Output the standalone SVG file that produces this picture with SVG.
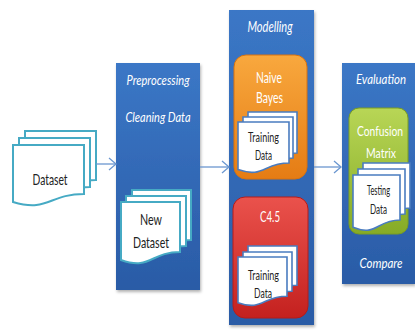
<svg xmlns="http://www.w3.org/2000/svg" width="415" height="330" viewBox="0 0 415 330">
<defs>
<linearGradient id="gBlue" x1="0" y1="0" x2="0" y2="1"><stop offset="0" stop-color="#3b77c6"/><stop offset="1" stop-color="#2a5ba6"/></linearGradient>
<linearGradient id="gOrange" x1="0" y1="0" x2="0" y2="1"><stop offset="0" stop-color="#f8a83e"/><stop offset="1" stop-color="#e57c14"/></linearGradient>
<linearGradient id="gRed" x1="0" y1="0" x2="0" y2="1"><stop offset="0" stop-color="#ea524c"/><stop offset="1" stop-color="#c4211f"/></linearGradient>
<linearGradient id="gGreen" x1="0" y1="0" x2="0" y2="1"><stop offset="0" stop-color="#b8d656"/><stop offset="1" stop-color="#86ab26"/></linearGradient>
<filter id="sh" x="-10%" y="-10%" width="130%" height="130%"><feDropShadow dx="1" dy="2" stdDeviation="1.5" flood-color="#000" flood-opacity="0.3"/></filter>
<marker id="arr" markerUnits="userSpaceOnUse" markerWidth="12" markerHeight="14" refX="9" refY="7" orient="auto"><path d="M2,1 L9,7 L2,13" fill="none" stroke="#6b97d0" stroke-width="1.3"/></marker>
</defs>
<style>
.panel{fill:url(#gBlue);filter:url(#sh)}
.doc{fill:#fff;stroke:#46aac4;stroke-width:2}
.docb{fill:#fff;stroke:#4a7cc0;stroke-width:1.6}
.t{font-family:Lato,"Liberation Sans",sans-serif;text-anchor:middle}
.w{fill:#fff}
.k{fill:#222}
.it{font-style:italic}
.conn{stroke:#6b97d0;stroke-width:1.3;fill:none}
</style>
<rect width="415" height="330" fill="#fff"/>

<g id="dataset">
<path class="doc" d="M25,131 H96 V180 C60.5,180 60.5,198.5 25,188 Z"/>
<path class="doc" d="M19,138 H90 V187 C54.5,187 54.5,205.5 19,195 Z"/>
<path class="doc" d="M13,145 H84 V194 C48.5,194 48.5,212.5 13,202 Z"/>
<text class="t k" x="50" y="185" font-size="15" textLength="35" lengthAdjust="spacingAndGlyphs">Dataset</text>
</g>

<g id="preprocessing">
<rect class="panel" x="116" y="63" width="84" height="227"/>
<text class="t w it" x="158" y="85" font-size="14" textLength="63" lengthAdjust="spacingAndGlyphs">Preprocessing</text>
<text class="t w it" x="158" y="122" font-size="14" textLength="65" lengthAdjust="spacingAndGlyphs">Cleaning Data</text>
<g id="new-dataset">
<path class="doc" d="M132,190 H191 V240 C161.5,240 161.5,258.6 132,248 Z"/>
<path class="doc" d="M126,196 H186 V246 C156,246 156,264.6 126,254 Z"/>
<path class="doc" d="M121,202 H180 V252 C150.5,252 150.5,270.6 121,260 Z"/>
<text class="t k" x="151" y="225" font-size="15" textLength="22" lengthAdjust="spacingAndGlyphs">New</text>
<text class="t k" x="151" y="248" font-size="15" textLength="36" lengthAdjust="spacingAndGlyphs">Dataset</text>
</g>
</g>

<g id="modelling">
<rect class="panel" x="229" y="10" width="85" height="315"/>
<text class="t w it" x="270" y="32" font-size="15" textLength="45" lengthAdjust="spacingAndGlyphs">Modelling</text>
<g id="naive-bayes">
<rect x="234" y="55" width="73" height="124" rx="12" fill="url(#gOrange)" stroke="#d9730f" stroke-width="1"/>
<text class="t w" x="269" y="83" font-size="16" textLength="26" lengthAdjust="spacingAndGlyphs">Naive</text>
<text class="t w" x="269.5" y="103" font-size="16" textLength="27" lengthAdjust="spacingAndGlyphs">Bayes</text>
<path class="docb" d="M248,112 H297 V153 C272.5,153 272.5,168.5 248,159.6 Z"/>
<path class="docb" d="M243,117 H293 V158 C268,158 268,173.5 243,164.6 Z"/>
<path class="docb" d="M238,122 H289 V163 C263.5,163 263.5,178.5 238,169.6 Z"/>
<text class="t k" x="263.5" y="141.5" font-size="13" textLength="31" lengthAdjust="spacingAndGlyphs">Training</text>
<text class="t k" x="263.5" y="159.5" font-size="13" textLength="17" lengthAdjust="spacingAndGlyphs">Data</text>
</g>
<g id="c45">
<rect x="233" y="197" width="75" height="121" rx="12" fill="url(#gRed)" stroke="#b51c1a" stroke-width="1"/>
<text class="t w" x="270" y="222" font-size="15" textLength="20" lengthAdjust="spacingAndGlyphs">C4.5</text>
<path class="docb" d="M248,246 H297 V285.3 C272.5,285.3 272.5,300.2 248,291.8 Z"/>
<path class="docb" d="M243,252 H292 V291.3 C267.5,291.3 267.5,306.2 243,297.8 Z"/>
<path class="docb" d="M238,257 H287 V296.3 C262.5,296.3 262.5,311.2 238,302.8 Z"/>
<text class="t k" x="263.5" y="280" font-size="13" textLength="31" lengthAdjust="spacingAndGlyphs">Training</text>
<text class="t k" x="263" y="298" font-size="13" textLength="18" lengthAdjust="spacingAndGlyphs">Data</text>
</g>
</g>

<g id="evaluation">
<rect class="panel" x="342" y="63" width="73" height="221"/>
<text class="t w it" x="381" y="84" font-size="13" textLength="50" lengthAdjust="spacingAndGlyphs">Evaluation</text>
<g id="confusion-matrix">
<rect x="349" y="108" width="59" height="126" rx="10" fill="url(#gGreen)" stroke="#7a9d22" stroke-width="1"/>
<text class="t w" x="380" y="135.5" font-size="12.5" textLength="46" lengthAdjust="spacingAndGlyphs">Confusion</text>
<text class="t w" x="381" y="158" font-size="14" textLength="30" lengthAdjust="spacingAndGlyphs">Matrix</text>
<path class="docb" d="M363,163 H410 V208 C386.5,208 386.5,225 363,215.3 Z"/>
<path class="docb" d="M358,169 H405 V214 C381.5,214 381.5,231 358,221.3 Z"/>
<path class="docb" d="M353,175 H400 V220 C376.5,220 376.5,237 353,227.3 Z"/>
<text class="t k" x="378.5" y="194.5" font-size="13" textLength="23" lengthAdjust="spacingAndGlyphs">Testing</text>
<text class="t k" x="378.5" y="213.5" font-size="13" textLength="17" lengthAdjust="spacingAndGlyphs">Data</text>
</g>
<text class="t w it" x="381" y="268" font-size="13" textLength="43" lengthAdjust="spacingAndGlyphs">Compare</text>
</g>

<g id="connectors">
<line class="conn" x1="96" y1="164" x2="116" y2="164" marker-end="url(#arr)"/>
<line class="conn" x1="200" y1="167" x2="229" y2="167" marker-end="url(#arr)"/>
<line class="conn" x1="314" y1="167" x2="341" y2="167" marker-end="url(#arr)"/>
</g>
</svg>
